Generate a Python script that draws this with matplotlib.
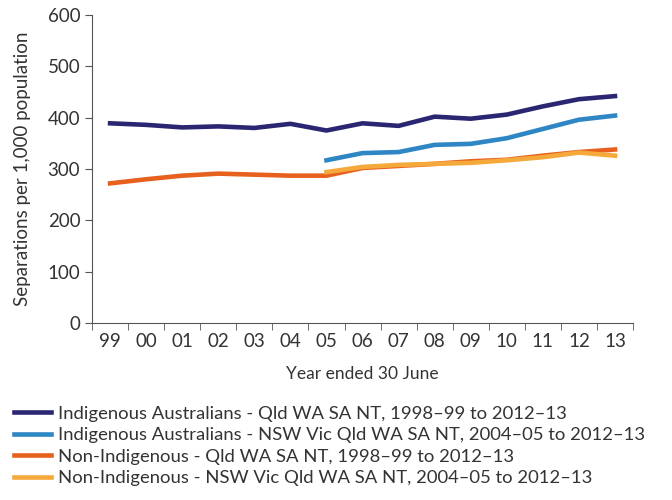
import numpy as np
import matplotlib.pyplot as plt
from matplotlib.ticker import MultipleLocator

plt.rcParams['font.family'] = ['Lato', 'DejaVu Sans']

years = ['99', '00', '01', '02', '03', '04', '05', '06', '07', '08', '09', '10', '11', '12', '13']

# Indigenous Australians - Qld WA SA NT, 1998-99 to 2012-13
indig_4 = [389, 386, 381, 383, 380, 388, 375, 389, 384, 402, 398, 406, 422, 436, 442]
# Indigenous Australians - NSW Vic Qld WA SA NT, 2004-05 to 2012-13
indig_6 = [317, 331, 333, 347, 349, 360, 378, 396, 404]
# Non-Indigenous - Qld WA SA NT
nonind_4 = [272, 280, 287, 291, 289, 287, 287, 302, 306, 310, 315, 318, 326, 333, 338]
# Non-Indigenous - NSW Vic Qld WA SA NT
nonind_6 = [294, 304, 308, 310, 312, 317, 323, 332, 326]

labels = ['Indigenous Australians - Qld WA SA NT, 1998\u201399 to 2012\u201313',
          'Indigenous Australians - NSW Vic Qld WA SA NT, 2004\u201305 to 2012\u201313',
          'Non-Indigenous - Qld WA SA NT, 1998\u201399 to 2012\u201313',
          'Non-Indigenous - NSW Vic Qld WA SA NT, 2004\u201305 to 2012\u201313']
colors = ['#2b2672', '#2f86c4', '#e8601e', '#f6a93b']

fig = plt.figure(figsize=(6.72, 5.0), dpi=100)
ax = fig.add_axes([0.137, 0.354, 0.805, 0.616])

x = np.arange(len(years))
x6 = x[6:]
ax.plot(x, indig_4, color=colors[0], lw=3.3, label=labels[0])
ax.plot(x6, indig_6, color=colors[1], lw=3.3, label=labels[1])
ax.plot(x, nonind_4, color=colors[2], lw=3.3, label=labels[2])
ax.plot(x6, nonind_6, color=colors[3], lw=3.3, label=labels[3])

ax.set_xlim(-0.5, len(years) - 0.5)
ax.set_ylim(0, 600)
ax.yaxis.set_major_locator(MultipleLocator(100))
ax.set_xticks(x)
ax.set_xticklabels(years)
ax.set_xticks(np.arange(-0.5, len(years), 1), minor=True)
ax.tick_params(axis='x', which='major', length=0, labelsize=13.5, pad=7, colors='#333333')
ax.tick_params(axis='x', which='minor', length=5, color='#555555')
ax.tick_params(axis='y', length=5, labelsize=13.5, color='#555555', labelcolor='#333333')
for s in ['top', 'right']:
    ax.spines[s].set_visible(False)
for s in ['left', 'bottom']:
    ax.spines[s].set_color('#555555')

ax.set_xlabel('Year ended 30 June', fontsize=12.5, color='#333333', labelpad=12)
ax.set_ylabel('Separations per 1,000 population', fontsize=13.5, color='#333333', labelpad=12)

ax.legend(loc='upper left', bbox_to_anchor=(-0.158, -0.245), frameon=False,
          fontsize=13.3, handlelength=2.0, handletextpad=0.4, labelspacing=0.3,
          borderaxespad=0, labelcolor='#333333')

fig.savefig('out.png', dpi=100)
